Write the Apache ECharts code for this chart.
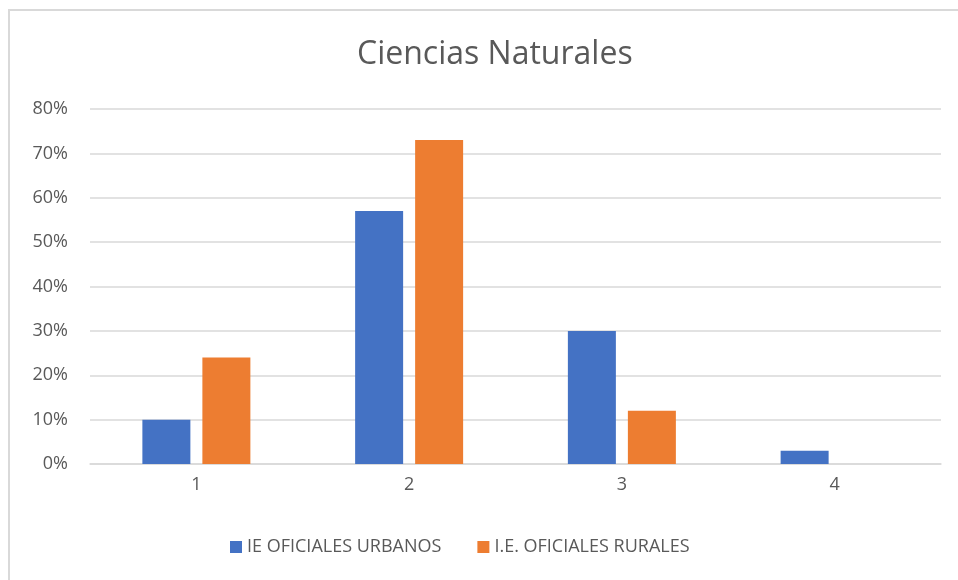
<!DOCTYPE html>
<html>
<head>
<meta charset="utf-8">
<script src="https://cdn.jsdelivr.net/npm/echarts@6/dist/echarts.min.js"></script>
<style>
  html, body { margin: 0; padding: 0; background: #fff; }
  #chart { width: 958px; height: 580px; }
</style>
</head>
<body>
<div id="chart"></div>
<script>
  // data
  const categories = ['1', '2', '3', '4']
  const urbanos = [10, 57, 30, 3]
  const rurales = [24, 73, 12, 0]
  const seriesNames = ['IE OFICIALES URBANOS', 'I.E. OFICIALES RURALES']

  const myChart = echarts.init(document.getElementById('chart'))
  const option = {
    animation: false,
    textStyle: { fontFamily: 'Open Sans, Noto Sans, sans-serif' },
    color: ['#4472c4', '#ed7d31'],
    // chart frame, only top and left edges are visible in the crop
    graphic: [{
      type: 'rect',
      shape: { x: 9, y: 10, width: 1000, height: 700 },
      style: { fill: 'none', stroke: '#d9d9d9', lineWidth: 2 },
      silent: true
    }],
    title: {
      text: 'Ciencias Naturales',
      left: 352,
      top: 34,
      textStyle: { color: '#595959', fontSize: 32, fontWeight: 'normal' }
    },
    legend: {
      data: seriesNames,
      bottom: 19,
      left: 225,
      itemWidth: 12,
      itemHeight: 12,
      itemGap: 36,
      icon: 'rect',
      textStyle: { color: '#595959', fontSize: 18 }
    },
    grid: { left: 90, right: 17, top: 109, bottom: 116 },
    xAxis: {
      type: 'category',
      data: categories,
      axisTick: { show: false },
      axisLine: { lineStyle: { color: '#d9d9d9', width: 1.5 } },
      axisLabel: { color: '#595959', fontSize: 18, margin: 12 }
    },
    yAxis: {
      type: 'value',
      min: 0,
      max: 80,
      interval: 10,
      axisLine: { show: false },
      axisTick: { show: false },
      splitLine: { lineStyle: { color: '#d9d9d9', width: 1.5 } },
      axisLabel: { color: '#595959', fontSize: 18, margin: 22, formatter: '{value}%' }
    },
    series: [{
      name: seriesNames[0],
      type: 'bar',
      data: urbanos,
      barWidth: 48,
      barGap: '25%'
    }, {
      name: seriesNames[1],
      type: 'bar',
      data: rurales,
      barWidth: 48,
      barGap: '25%'
    }]
  }
  myChart.setOption(option)
</script>
</body>
</html>
